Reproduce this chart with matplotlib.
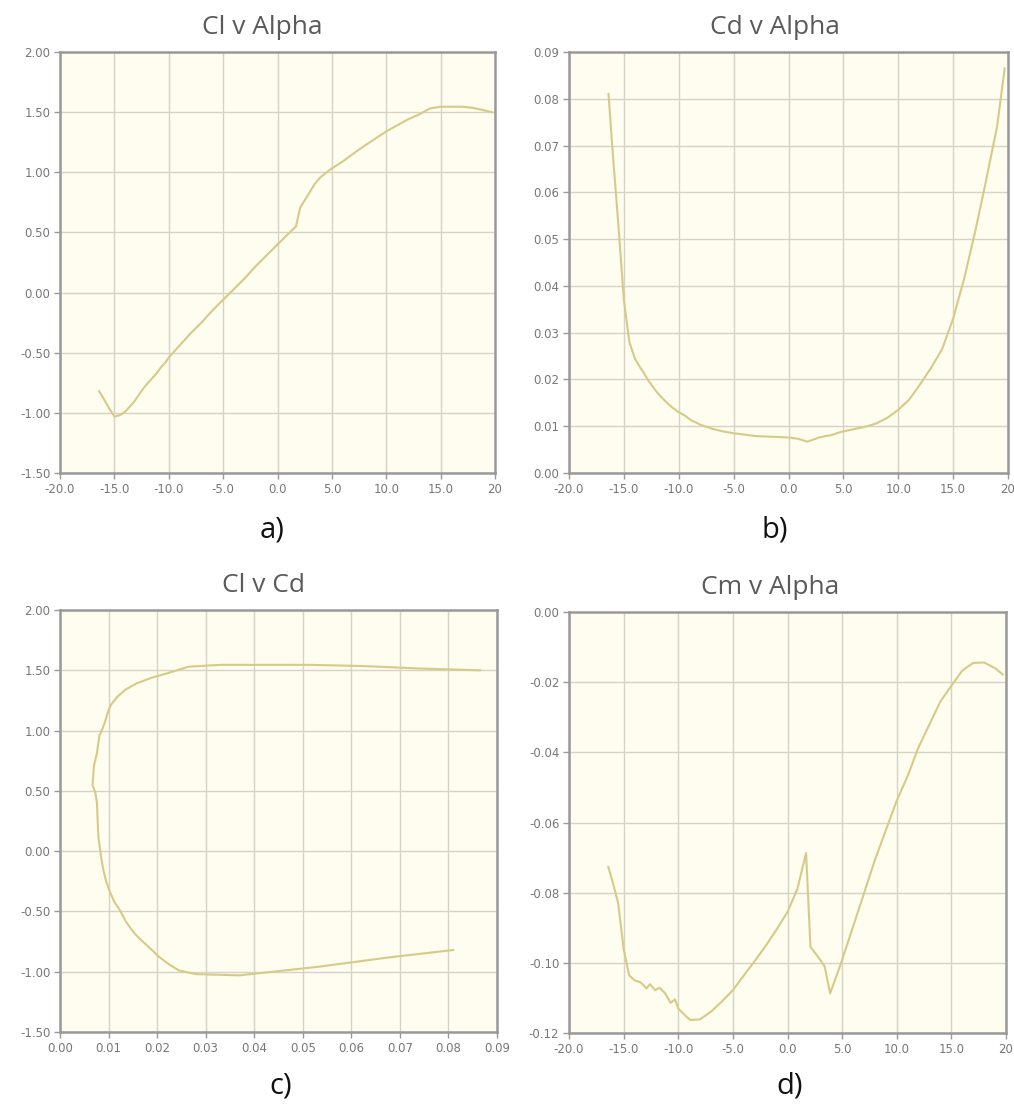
import matplotlib
matplotlib.use("Agg")
import matplotlib.pyplot as plt
from matplotlib.ticker import FixedLocator, FixedFormatter

# ---- data ----
alpha = [-16.4, -16.0, -15.5, -15.0, -14.5, -14.0, -13.5, -13.2, -12.9, -12.6,
         -12.1, -11.7, -11.2, -10.7, -10.3, -10.0, -9.4, -8.9, -8.0, -7.0,
         -6.0, -5.0, -4.0, -3.0, -2.0, -1.0, 0.0, 0.9, 1.7, 2.1,
         2.8, 3.4, 3.9, 4.8, 6.0, 7.2, 8.0, 9.0, 10.0, 11.0,
         12.0, 13.0, 14.0, 15.0, 16.0, 17.0, 18.0, 19.0, 19.7]

cl = [-0.82, -0.88, -0.96, -1.03, -1.02, -0.99, -0.94, -0.91, -0.87, -0.83,
      -0.77, -0.73, -0.68, -0.62, -0.58, -0.54, -0.48, -0.43, -0.34, -0.25,
      -0.15, -0.06, 0.03, 0.12, 0.22, 0.31, 0.40, 0.48, 0.55, 0.71,
      0.81, 0.90, 0.955, 1.02, 1.09, 1.17, 1.22, 1.28, 1.34, 1.39,
      1.44, 1.48, 1.53, 1.545, 1.545, 1.545, 1.535, 1.515, 1.50]

cd = [0.081, 0.068, 0.053, 0.037, 0.028, 0.0245, 0.0225, 0.0215, 0.0202, 0.0192,
      0.0176, 0.0165, 0.0153, 0.0142, 0.0135, 0.0130, 0.0122, 0.0113, 0.0103, 0.0095,
      0.0089, 0.0085, 0.0082, 0.0079, 0.0078, 0.0077, 0.0076, 0.0073, 0.0067, 0.0070,
      0.0076, 0.0079, 0.0081, 0.0088, 0.0094, 0.0100, 0.0106, 0.0118, 0.0135, 0.0157,
      0.0190, 0.0225, 0.0265, 0.0330, 0.0415, 0.0515, 0.0625, 0.0740, 0.0865]

cm = [-0.0727, -0.077, -0.083, -0.096, -0.1035, -0.105, -0.1055, -0.1063, -0.1073, -0.1061,
      -0.1078, -0.1071, -0.1087, -0.1114, -0.1104, -0.1130, -0.1149, -0.1163, -0.1161, -0.1139,
      -0.1110, -0.1078, -0.1036, -0.0995, -0.0952, -0.0905, -0.0855, -0.0790, -0.0687, -0.0954,
      -0.0983, -0.1010, -0.1087, -0.1010, -0.0897, -0.0783, -0.0707, -0.0622, -0.0538, -0.0467,
      -0.0385, -0.0320, -0.0255, -0.0210, -0.0167, -0.0145, -0.0144, -0.0160, -0.0178]

titles = ["Cl v Alpha", "Cd v Alpha", "Cl v Cd", "Cm v Alpha"]
panel_labels = ["a)", "b)", "c)", "d)"]

alpha_ticks = [-20, -15, -10, -5, 0, 5, 10, 15, 20]
alpha_ticklabels = ["-20.0", "-15.0", "-10.0", "-5.0", "0.0", "5.0", "10.0", "15.0", "20"]
cl_ticks = [-1.5, -1.0, -0.5, 0.0, 0.5, 1.0, 1.5, 2.0]
cl_ticklabels = ["-1.50", "-1.00", "-0.50", "0.00", "0.50", "1.00", "1.50", "2.00"]
cd_ticks = [0.0, 0.01, 0.02, 0.03, 0.04, 0.05, 0.06, 0.07, 0.08, 0.09]
cd_ticklabels = ["0.00", "0.01", "0.02", "0.03", "0.04", "0.05", "0.06", "0.07", "0.08", "0.09"]
cm_ticks = [-0.12, -0.10, -0.08, -0.06, -0.04, -0.02, 0.0]
cm_ticklabels = ["-0.12", "-0.10", "-0.08", "-0.06", "-0.04", "-0.02", "0.00"]

# ---- figure ----
W, H = 1014, 1105
fig = plt.figure(figsize=(W / 100, H / 100), dpi=100)
fig.patch.set_facecolor("white")

LINE = "#d6cb86"
BG = "#fffcf0"
GRID = "#d6d2c6"
SPINE = "#999999"
TICKC = "#777777"


def px_axes(l, r, t, b):
    return fig.add_axes([l / W, 1 - b / H, (r - l) / W, (b - t) / H])


boxes = [(60, 495, 52, 473), (569, 1008, 52, 473),
         (60, 497, 610, 1032), (569, 1006, 612, 1033)]
title_pos = [(262, 28), (775, 28), (263, 585), (770, 587)]
label_pos = [(272, 530), (775, 530), (281, 1086), (790, 1086)]

series = [(alpha, cl), (alpha, cd), (cd, cl), (alpha, cm)]
xspecs = [(alpha_ticks, alpha_ticklabels, (-20, 20)),
          (alpha_ticks, alpha_ticklabels, (-20, 20)),
          (cd_ticks, cd_ticklabels, (0, 0.09)),
          (alpha_ticks, alpha_ticklabels, (-20, 20))]
yspecs = [(cl_ticks, cl_ticklabels, (-1.5, 2.0)),
          (cd_ticks, cd_ticklabels, (0, 0.09)),
          (cl_ticks, cl_ticklabels, (-1.5, 2.0)),
          (cm_ticks, cm_ticklabels, (-0.12, 0.0))]

for i in range(4):
    ax = px_axes(*boxes[i])
    ax.set_facecolor(BG)
    x, y = series[i]
    ax.plot(x, y, color=LINE, lw=1.5, solid_joinstyle="round", zorder=3)
    xt, xl, xlim = xspecs[i]
    yt, yl, ylim = yspecs[i]
    ax.set_xlim(*xlim)
    ax.set_ylim(*ylim)
    ax.xaxis.set_major_locator(FixedLocator(xt))
    ax.xaxis.set_major_formatter(FixedFormatter(xl))
    ax.yaxis.set_major_locator(FixedLocator(yt))
    ax.yaxis.set_major_formatter(FixedFormatter(yl))
    ax.grid(True, color=GRID, lw=1.0, zorder=0)
    ax.set_axisbelow(True)
    for s in ax.spines.values():
        s.set_color(SPINE)
        s.set_linewidth(1.8)
    ax.tick_params(axis="both", colors=SPINE, length=4, width=1, direction="out",
                   labelsize=8.5, labelcolor=TICKC, pad=3)
    for lab in ax.get_xticklabels() + ax.get_yticklabels():
        lab.set_family("DejaVu Sans")
    tx, ty = title_pos[i]
    fig.text(tx / W, 1 - ty / H, titles[i], ha="center", va="center",
             fontsize=19, color="#5a5a5a", family="Open Sans")
    lx, ly = label_pos[i]
    fig.text(lx / W, 1 - ly / H, panel_labels[i], ha="center", va="center",
             fontsize=21, color="#111111", family="Open Sans")

fig.savefig("out.png", dpi=100, facecolor="white")
